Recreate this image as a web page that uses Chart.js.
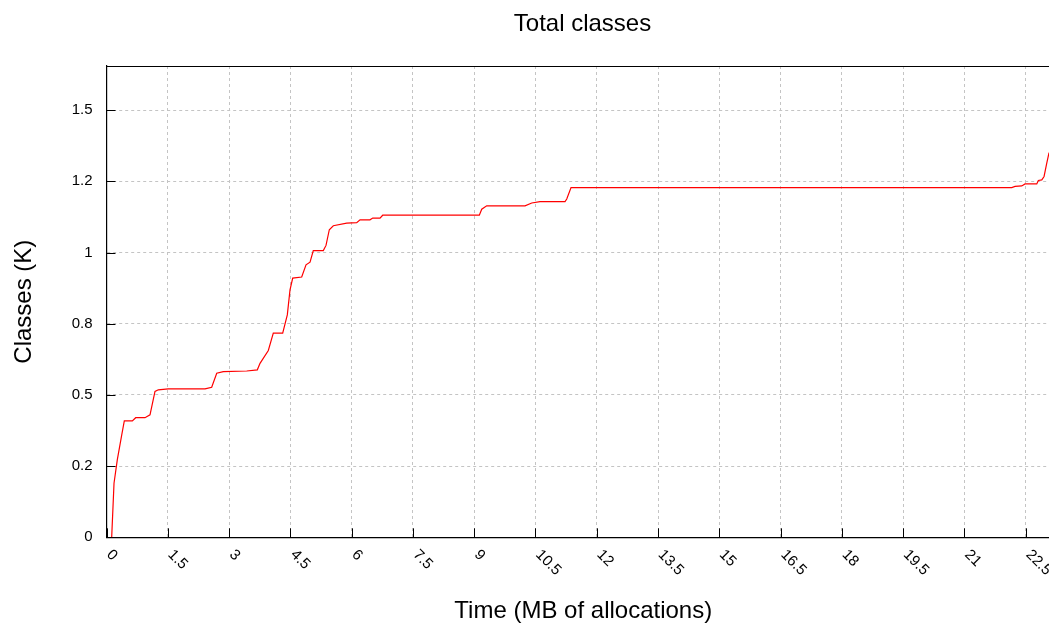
<!DOCTYPE html>
<html>
<head>
<meta charset="utf-8">
<title>Total classes</title>
<script src="https://cdn.jsdelivr.net/npm/chart.js@4/dist/chart.umd.min.js"></script>
<style>
  html, body { margin: 0; padding: 0; background: #fff; overflow: hidden; }
  #wrap { width: 1049px; height: 630px; overflow: hidden; }
  #chart { display: block; }
</style>
</head>
<body>
<div id="wrap"><canvas id="chart" width="1165" height="630"></canvas></div>
<script>
// Cumulative loaded classes (thousands) against allocated MB
const timeMB = [
  0.127, 0.184, 0.264, 0.372, 0.436, 0.632, 0.715, 0.942, 1.065, 1.187,
  1.268, 1.513, 2.411, 2.575, 2.698, 2.859, 3.432, 3.692, 3.758, 3.961,
  4.083, 4.313, 4.426, 4.492, 4.558, 4.778, 4.884, 4.982, 5.062, 5.307,
  5.373, 5.454, 5.552, 5.880, 6.125, 6.206, 6.450, 6.517, 6.695, 6.761,
  9.126, 9.185, 9.307, 10.245, 10.409, 10.612, 11.224, 11.266, 11.371, 22.159,
  22.240, 22.404, 22.485, 22.771, 22.810, 22.894, 22.950, 23.016, 23.072
];
const classesK = [
  0.000, 0.190, 0.272, 0.359, 0.409, 0.409, 0.420, 0.420, 0.430, 0.512,
  0.518, 0.521, 0.521, 0.527, 0.576, 0.582, 0.584, 0.588, 0.611, 0.656,
  0.717, 0.717, 0.781, 0.869, 0.910, 0.914, 0.957, 0.966, 1.007, 1.007,
  1.025, 1.080, 1.094, 1.103, 1.105, 1.115, 1.115, 1.121, 1.121, 1.131,
  1.131, 1.152, 1.164, 1.164, 1.174, 1.179, 1.179, 1.188, 1.228, 1.228,
  1.232, 1.234, 1.241, 1.241, 1.253, 1.255, 1.267, 1.314, 1.351
];

const xTickValues = [0, 1.5, 3, 4.5, 6, 7.5, 9, 10.5, 12, 13.5, 15, 16.5, 18, 19.5, 21, 22.5];
const xTickLabels = ['0', '1.5', '3', '4.5', '6', '7.5', '9', '10.5', '12', '13.5', '15', '16.5', '18', '19.5', '21', '22.5'];
const yTickValues = [0, 0.25, 0.5, 0.75, 1, 1.25, 1.5];
const yTickLabels = ['0', '0.2', '0.5', '0.8', '1', '1.2', '1.5'];

const xMin = 0, xMax = 23.34;
const yMin = 0, yMax = 1.655;

const FONT = '"Liberation Sans", Arial, sans-serif';
const TICK_LEN = 9;

// Frame top/right edges, inward tick marks and slanted x tick labels
const framePlugin = {
  id: 'frame',
  beforeDatasetsDraw(chart) {
    const { ctx, chartArea: a } = chart;
    const xs = chart.scales.x, ys = chart.scales.y;
    ctx.save();
    ctx.strokeStyle = '#000';
    ctx.lineWidth = 1.2;
    ctx.beginPath();
    ctx.moveTo(a.left, a.top + 0.5);
    ctx.lineTo(a.right, a.top + 0.5);
    ctx.moveTo(a.right, a.top);
    ctx.lineTo(a.right, a.bottom);
    ctx.stroke();
    ctx.lineWidth = 1;
    ctx.beginPath();
    xTickValues.forEach(v => {
      const px = Math.round(xs.getPixelForValue(v)) + 0.5;
      ctx.moveTo(px, a.bottom);
      ctx.lineTo(px, a.bottom - TICK_LEN);
    });
    yTickValues.forEach(v => {
      const py = Math.round(ys.getPixelForValue(v)) + 0.5;
      ctx.moveTo(a.left, py);
      ctx.lineTo(a.left + TICK_LEN, py);
    });
    ctx.stroke();
    ctx.restore();
  },
  afterDraw(chart) {
    const { ctx, chartArea: a } = chart;
    const xs = chart.scales.x;
    ctx.save();
    ctx.fillStyle = '#000';
    ctx.font = '15px ' + FONT;
    ctx.textAlign = 'left';
    ctx.textBaseline = 'middle';
    xTickValues.forEach((v, i) => {
      const px = xs.getPixelForValue(v);
      ctx.save();
      ctx.translate(px + 2.5, a.bottom + 15);
      ctx.rotate(Math.PI / 4);
      ctx.fillText(xTickLabels[i], 0, 0);
      ctx.restore();
    });
    ctx.restore();
  }
};

new Chart(document.getElementById('chart'), {
  type: 'scatter',
  data: {
    datasets: [{
      label: 'Total classes',
      data: timeMB.map((t, i) => ({ x: t, y: classesK[i] })),
      showLine: true,
      borderColor: '#ff0000',
      backgroundColor: '#ff0000',
      borderWidth: 1.2,
      pointRadius: 0,
      tension: 0
    }]
  },
  options: {
    responsive: false,
    animation: false,
    layout: { padding: 0 },
    plugins: {
      legend: { display: false },
      tooltip: { enabled: false },
      title: {
        display: true,
        text: 'Total classes',
        color: '#000',
        font: { family: FONT, size: 24, weight: 'normal' },
        padding: { top: 9.5, bottom: 27.7 }
      }
    },
    scales: {
      x: {
        type: 'linear',
        min: xMin,
        max: xMax,
        afterBuildTicks: s => { s.ticks = xTickValues.map(v => ({ value: v })); },
        afterFit: s => { s.height = 92.7; },
        ticks: { display: false },
        grid: { color: '#c4c4c4', lineWidth: 1, drawTicks: false },
        border: { display: true, color: '#000', width: 1.2, dash: [3, 3] },
        title: {
          display: true,
          text: 'Time (MB of allocations)',
          color: '#000',
          font: { family: FONT, size: 24 },
          padding: { top: 0, bottom: 4 }
        }
      },
      y: {
        type: 'linear',
        min: yMin,
        max: yMax,
        afterBuildTicks: s => { s.ticks = yTickValues.map(v => ({ value: v })); },
        afterFit: s => { s.width = 106.5; },
        ticks: {
          color: '#000',
          font: { family: FONT, size: 15 },
          padding: 14,
          callback: (v, i) => yTickLabels[i]
        },
        grid: { color: '#c4c4c4', lineWidth: 1, drawTicks: false },
        border: { display: true, color: '#000', width: 1.2, dash: [3, 3] },
        title: {
          display: true,
          text: 'Classes (K)',
          color: '#000',
          font: { family: FONT, size: 24 },
          padding: { top: 10, bottom: 0 }
        }
      },
      // empty right-hand margin beside the plot frame
      margin: {
        type: 'linear',
        position: 'right',
        afterFit: s => { s.width = 105; },
        ticks: { display: false },
        grid: { display: false, drawTicks: false },
        border: { display: false },
        title: { display: false }
      }
    }
  },
  plugins: [framePlugin]
});
</script>
</body>
</html>
